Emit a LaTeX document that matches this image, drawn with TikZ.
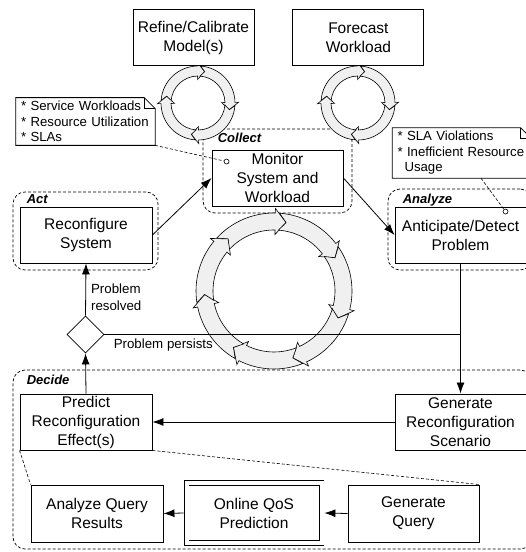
\documentclass[tikz,border=0pt]{standalone}
\usepackage{fontspec}
\setmainfont{Liberation Sans}
\usepackage{tikz}
\usetikzlibrary{positioning}
\usetikzlibrary{shapes.geometric,arrows.meta}

% block arrows running clockwise round a ring
% #1 centre, #2 inner radius, #3 outer radius, #4 segments, #5 first tip angle, #6 head angle, #7 wing
\newcommand{\cyclering}[7]{%
    \begin{scope}[shift={#1}]
        \pgfmathsetmacro{\rmid}{(#2+#3)/2}
        \pgfmathsetmacro{\hp}{#6*(#3-\rmid)/(#3+#7-\rmid)}
        \foreach \k in {1,...,#4}{
            \pgfmathsetmacro{\ta}{#5-(\k-1)*360/#4}
            \pgfmathsetmacro{\tb}{\ta+360/#4}
            \filldraw[ringArrow] (\tb+\hp:#3pt) arc[start angle=\tb+\hp, end angle=\ta+#6, radius=#3pt]
                -- (\ta+#6:#3pt+#7pt) -- (\ta:\rmid pt) -- (\ta+#6:#2pt-#7pt) -- (\ta+#6:#2pt)
                arc[start angle=\ta+#6, end angle=\tb+\hp, radius=#2pt] -- (\tb:\rmid pt) -- cycle;
        }
    \end{scope}}

\begin{document}
\begin{tikzpicture} [x=1pt, y=1pt, >={Latex[length=11pt,width=8pt]}]
            % Set primary nodes
            \tikzset{
                procNode/.style={
                        draw,
                        rectangle,
                        fill=white,
                        line width=0.9pt,
                        minimum height=56pt,
                        minimum width=131pt,
                        inner sep=0pt,
                        align=center,
                        font=\fontsize{15.5}{19}\selectfont
                    }
            }
            \tikzset{
                groupNode/.style={
                        draw,
                        rectangle,
                        rounded corners=12pt,
                        dash pattern=on 3pt off 2pt,
                        line width=0.7pt,
                        inner sep=0pt
                    }
            }
            \tikzset{
                groupLabel/.style={
                        inner sep=0pt,
                        font=\fontsize{13}{15}\selectfont\bfseries\itshape
                    }
            }
            \tikzset{
                noteNode/.style={
                        rectangle,
                        fill=white,
                        text width=129pt,
                        inner xsep=5pt,
                        minimum height=47pt,
                        align=left,
                        font=\fontsize{13.2}{15.5}\selectfont
                    }
            }
            \tikzset{
                decisionNode/.style={
                        draw,
                        diamond,
                        fill=white,
                        line width=0.8pt,
                        minimum width=37pt,
                        minimum height=37pt,
                        inner sep=0pt
                    }
            }
            \tikzset{
                pinDot/.style={
                        draw,
                        circle,
                        fill=white,
                        line width=0.6pt,
                        minimum size=5pt,
                        inner sep=0pt
                    }
            }
            \tikzset{
                edgeLabel/.style={
                        inner sep=1pt,
                        align=left,
                        font=\fontsize{13.3}{17}\selectfont
                    }
            }
            \tikzset{ringArrow/.style={fill=gray!12, draw=black, line width=0.6pt}}
            \tikzset{flow/.style={->, line width=0.8pt}}
            \tikzset{noteLink/.style={line width=0.6pt, dash pattern=on 3pt off 2pt}}
            \tikzset{noteBorder/.style={line width=0.8pt}}
            \useasboundingbox (0,0) rectangle (526,552);
            % Groups
            \node[groupNode, minimum width=149pt, minimum height=84pt](collect) at (277.5,381) {};
            \node[groupNode, minimum width=145pt, minimum height=78pt](act) at (85.5,321) {};
            \node[groupNode, minimum width=144pt, minimum height=81pt](analyze) at (460,322.5) {};
            \node[groupNode, minimum width=519pt, minimum height=179pt](decide) at (272.5,92.5) {};
            \node[groupLabel, below right = 4pt and 15pt of collect.north west](collectLbl){Collect};
            \node[groupLabel, below right = 3pt and 14pt of act.north west](actLbl){Act};
            \node[groupLabel, below right = 5pt and 15pt of analyze.north west](analyzeLbl){Analyze};
            \node[groupLabel, below right = 5pt and 14pt of decide.north west](decideLbl){Decide};
            % Rings
            \cyclering{(198,449)}{27}{37}{4}{78}{13}{3.5}
            \cyclering{(358,449)}{27}{37}{4}{78}{13}{3.5}
            \cyclering{(274,261)}{61}{78}{7}{80}{9}{4.5}
            % Placing nodes
            \node[procNode, minimum width=121pt](refine) at (193.5,514.5){Refine/Calibrate\\Model(s)};
            \node[procNode, right = 38pt of refine](forecast){Forecast\\Workload};
            \node[procNode](monitor) at (277.5,374){Monitor\\System and\\Workload};
            \node[procNode, minimum width=132pt](reconf) at (86,317){Reconfigure\\System};
            \node[procNode](anticipate) at (460.5,317){Anticipate/Detect\\Problem};
            \node[decisionNode](decision) at (85.5,217.5){};
            \node[procNode, minimum width=132pt](predict) at (86,130){Predict\\Reconfiguration\\Effect(s)};
            \node[procNode](genscen) at (460.5,130){Generate\\Reconfiguration\\Scenario};
            \node[procNode, minimum width=135pt, minimum height=60pt, double, double distance=4pt, outer sep=2.9pt](onlineqos) at (254,39){Online QoS\\Prediction};
            \node[procNode, minimum width=132pt, minimum height=57pt](analyzeq) at (97,38.5){Analyze Query\\Results};
            \node[procNode, minimum height=57pt](genquery) at (413.5,38.5){Generate\\Query};
            \node[noteNode](note1) at (85.5,430.5){{*} Service Workloads\\{*} Resource Utilization\\{*} SLAs};
            \node[noteNode, minimum height=48pt](note2) at (462,399){{*} SLA Violations\\{*} Inefficient Resource\\\hspace*{7pt}Usage};
            \node[pinDot](monpin) at ([xshift=15pt,yshift=-12pt]monitor.north west){};
            \node[pinDot](anapin) at ([xshift=111pt,yshift=-5pt]anticipate.north west){};
            % Note outlines
            \draw[noteBorder] (note1.north west) -- ([xshift=-11pt]note1.north east) -- ([yshift=-11pt]note1.north east) -- (note1.south east) -- (note1.south west) -- cycle;
            \draw[noteBorder] ([xshift=-11pt]note1.north east) |- ([yshift=-11pt]note1.north east);
            \draw[noteBorder] (note2.north west) -- ([xshift=-11pt]note2.north east) -- ([yshift=-11pt]note2.north east) -- (note2.south east) -- (note2.south west) -- cycle;
            \draw[noteBorder] ([xshift=-11pt]note2.north east) |- ([yshift=-11pt]note2.north east);
            % Draw arrows
            \draw[noteLink](note1.south east) -- (monpin);
            \draw[noteLink]([xshift=19pt]note2.south) -- (anapin);
            \draw[flow](reconf.east) -- (monitor.west);
            \draw[flow](monitor.east) -- (anticipate.west);
            \draw[flow](anticipate.south) -- (genscen.north);
            \draw[line width=0.8pt](decision.east) -- node[edgeLabel, pos=0, anchor=north west, xshift=8pt, yshift=-2.5pt](persistsLbl){Problem persists} (genscen.north |- decision.east);
            \draw[flow](decision.north) -- node[edgeLabel, pos=0.36, right=4pt](resolvedLbl){Problem\\resolved} (reconf.south);
            \draw[flow](predict.north) -- (decision.south);
            \draw[flow](genscen.west) -- (predict.east);
            \draw[flow](genquery.west) -- (onlineqos.east);
            \draw[flow](onlineqos.west) -- (analyzeq.east);
            \draw[noteLink](predict.south west) -- (analyzeq.north west);
            \draw[noteLink](predict.south east) -- (genquery.north east);
        \end{tikzpicture}
\end{document}
